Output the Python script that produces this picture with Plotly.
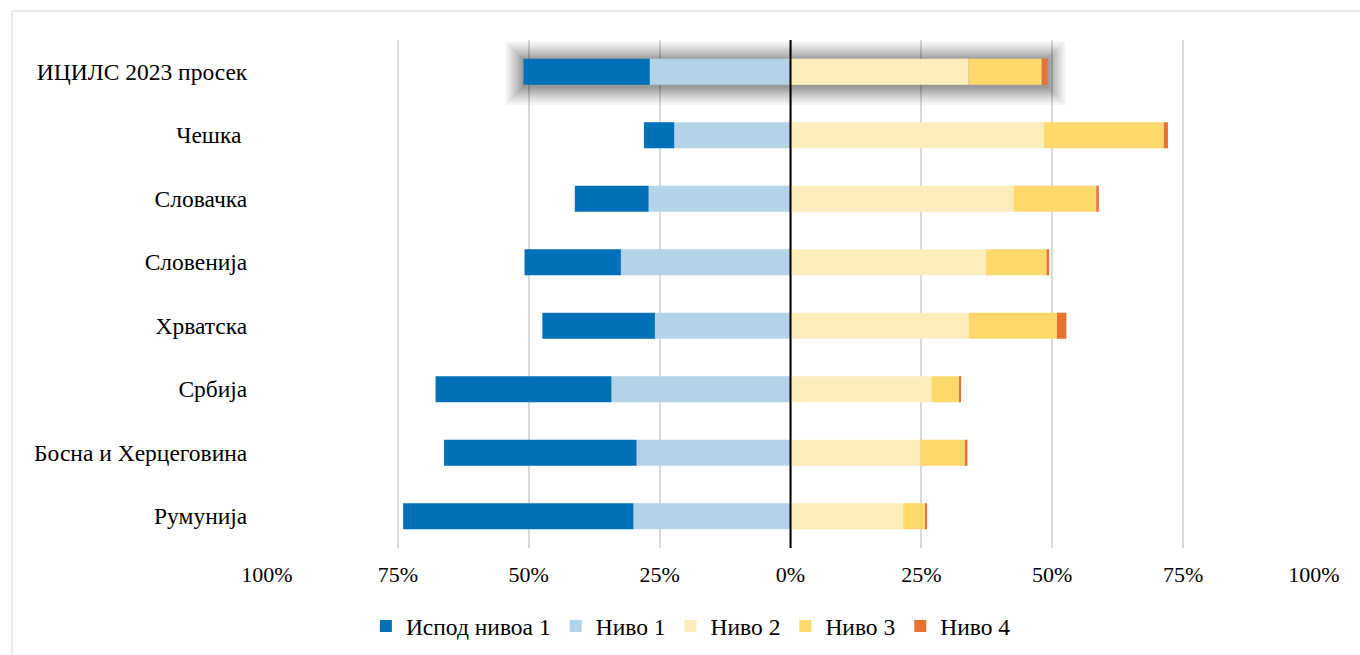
import plotly.graph_objects as go

categories = ["ИЦИЛС 2023 просек", "Чешка\u00a0", "Словачка", "Словенија", "Хрватска",
              "Србија", "Босна и Херцеговина", "Румунија"]
below_level1 = [24.1, 5.8, 14.1, 18.4, 21.5, 33.6, 36.8, 44.0]
level1 = [26.9, 22.2, 27.1, 32.4, 25.9, 34.2, 29.4, 30.0]
level2 = [34.0, 48.4, 42.6, 37.3, 34.0, 26.9, 24.8, 21.5]
level3 = [14.0, 22.9, 15.8, 11.6, 16.9, 5.3, 8.5, 4.3]
level4 = [1.1, 0.8, 0.5, 0.5, 1.8, 0.2, 0.5, 0.2]

series_names = ["Испод нивоа 1", "Ниво 1", "Ниво 2", "Ниво 3", "Ниво 4"]
colors = ["#0070b8", "#b2d3e8", "#feedbc", "#fdd96b", "#e97132"]
tick_vals = [-100, -75, -50, -25, 0, 25, 50, 75, 100]
tick_text = ["100%", "75%", "50%", "25%", "0%", "25%", "50%", "75%", "100%"]

FONT = "Liberation Serif"
TEXT_SIZE = 23.5
TICK_SIZE = 22

fig = go.Figure()
# negative side: Ниво 1 adjacent to zero, then Испод нивоа 1
fig.add_trace(go.Bar(y=categories, x=[-v for v in level1], orientation="h",
                     name=series_names[1], marker=dict(color=colors[1], line=dict(width=0)),
                     legendrank=2))
fig.add_trace(go.Bar(y=categories, x=[-v for v in below_level1], orientation="h",
                     name=series_names[0], marker=dict(color=colors[0], line=dict(width=0)),
                     legendrank=1))
for vals, name, col, rk in [(level2, series_names[2], colors[2], 3),
                            (level3, series_names[3], colors[3], 4),
                            (level4, series_names[4], colors[4], 5)]:
    fig.add_trace(go.Bar(y=categories, x=vals, orientation="h", name=name,
                         marker=dict(color=col, line=dict(width=0)), legendrank=rk))

shapes = []
# soft glow/shadow around the ICILS average bar
left_end = -(below_level1[0] + level1[0])
right_end = level2[0] + level3[0] + level4[0]
px_x = 200 / 1047.0
px_y = 8 / 508.0
half = 0.205
for e in [1, 2.5, 4, 5.5, 7, 9, 11, 13, 15.5, 18]:
    shapes.append(dict(type="rect", xref="x", yref="y", layer="between",
                       x0=left_end - e * px_x, x1=right_end + e * px_x,
                       y0=-half - e * px_y + 1 * px_y, y1=half + e * px_y + 2 * px_y,
                       fillcolor="rgba(0,0,0,0.046)", line=dict(width=0)))
# zero line
shapes.append(dict(type="line", xref="x", yref="paper", x0=0, x1=0, y0=0, y1=1,
                   line=dict(color="black", width=2), layer="above"))
# chart-area border
shapes.append(dict(type="rect", xref="paper", yref="paper",
                   x0=-0.2436, x1=1.06, y0=-0.25, y1=1.0571,
                   line=dict(color="#d9d9d9", width=1), fillcolor="rgba(0,0,0,0)", layer="below"))

fig.update_layout(
    barmode="relative",
    bargap=0.59,
    width=1360, height=655,
    margin=dict(l=267, r=46, t=40, b=107, autoexpand=False),
    paper_bgcolor="white", plot_bgcolor="white",
    font=dict(family=FONT, size=TEXT_SIZE, color="black"),
    shapes=shapes,
    showlegend=True,
    legend=dict(orientation="h", xref="container", yref="container",
                x=0.508, xanchor="center", y=0.044, yanchor="middle",
                font=dict(family=FONT, size=TEXT_SIZE, color="black"), itemwidth=30,
                traceorder="normal"),
    xaxis=dict(range=[-100, 100], tickvals=tick_vals, ticktext=tick_text,
               showgrid=True, gridcolor="#d9d9d9", gridwidth=1.5, zeroline=False,
               showline=False, ticks="outside", ticklen=7, tickcolor="rgba(0,0,0,0)",
               tickfont=dict(family=FONT, size=TICK_SIZE, color="black"), automargin=False),
    yaxis=dict(autorange="reversed", showgrid=False, zeroline=False, showline=False,
               ticks="outside", ticklen=14, tickcolor="rgba(0,0,0,0)",
               tickfont=dict(family=FONT, size=TEXT_SIZE, color="black"), automargin=False),
)

fig.write_html("out.html")
